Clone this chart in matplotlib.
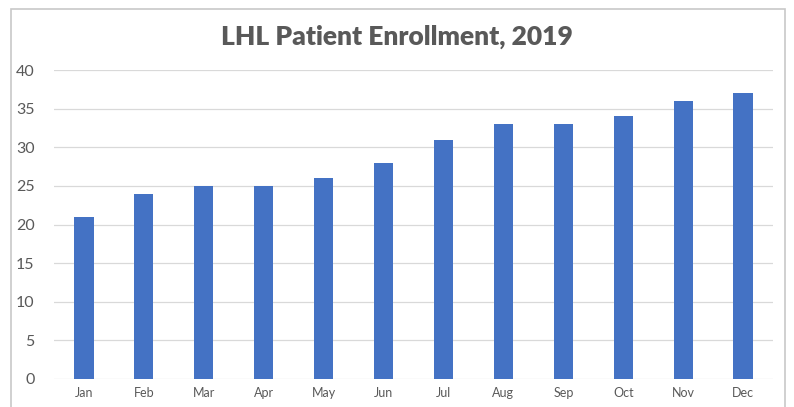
import matplotlib.pyplot as plt
from matplotlib.patches import Rectangle

# 월별 환자 등록 수
months = ['Jan', 'Feb', 'Mar', 'Apr', 'May', 'Jun', 'Jul', 'Aug', 'Sep', 'Oct', 'Nov', 'Dec']
enrollment = [21, 24, 25, 25, 26, 28, 31, 33, 33, 34, 36, 37]
y_ticks = [0, 5, 10, 15, 20, 25, 30, 35, 40]

txt_color = '#595959'
bar_color = '#4472C4'

plt.rcParams['font.family'] = ['Lato', 'DejaVu Sans']

fig = plt.figure(figsize=(7.94, 4.07), dpi=100)
ax = fig.add_axes([0.068, 0.0688, 0.9056, 0.7592])

x = range(len(months))
ax.bar(x, enrollment, width=0.32, color=bar_color, zorder=3)

ax.set_xlim(-0.5, len(months) - 0.5)
ax.set_ylim(0, 40)
ax.set_yticks(y_ticks)
ax.set_xticks(list(x))
ax.set_xticklabels(months, fontsize=9, color=txt_color)
ax.tick_params(axis='y', labelsize=11.5, labelcolor=txt_color, length=0, pad=14)
ax.tick_params(axis='x', length=0, pad=6)
ax.grid(axis='y', color='#d9d9d9', linewidth=0.9, zorder=0)
for s in ax.spines.values():
    s.set_visible(False)

fig.text(0.5, 0.909, 'LHL Patient Enrollment, 2019', ha='center', va='center',
         fontsize=19, fontweight='heavy', color=txt_color)

# 차트 테두리
fig.patches.append(Rectangle((11 / 794, -0.05), (785 - 11) / 794, 1 - 9 / 407 + 0.05,
                             transform=fig.transFigure, fill=False,
                             edgecolor='#c8c8c8', linewidth=1.2))

fig.savefig('out.png', dpi=100)
